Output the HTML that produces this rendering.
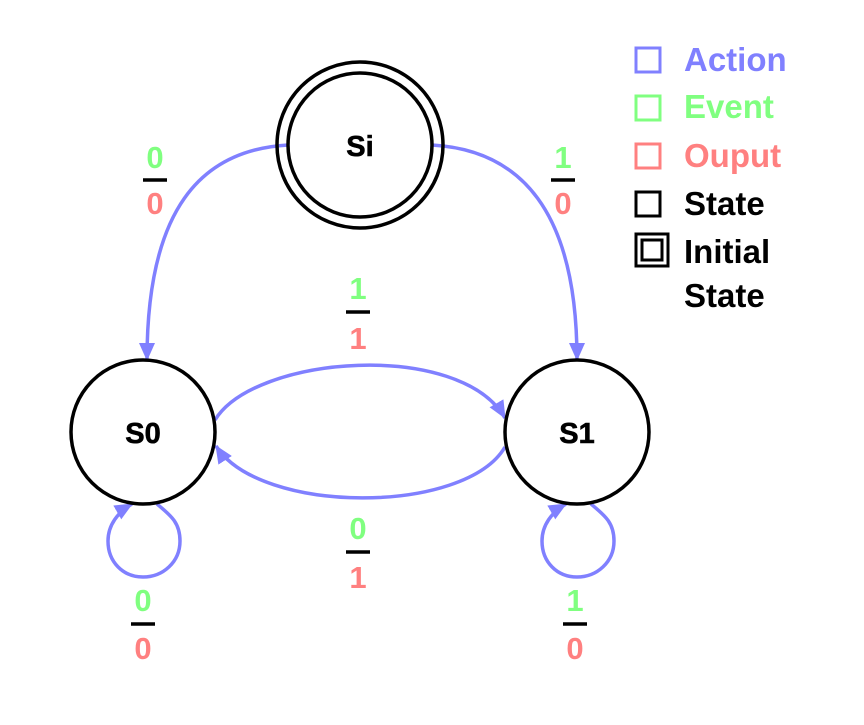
<!DOCTYPE html>
<html><head><meta charset="utf-8"><style>
body{margin:0;background:#fff}
svg text{font-family:"Liberation Sans",Arial,sans-serif;font-weight:bold}
</style></head><body>
<svg width="864" height="720" viewBox="0 0 864 720" xmlns="http://www.w3.org/2000/svg">
<defs>
<marker id="b" markerWidth="18" markerHeight="16" refX="17" refY="8" orient="auto" markerUnits="userSpaceOnUse"><path d="M0,0 L18,8 L0,16 Z" fill="#8080ff"/></marker></defs>
<g fill="none" stroke="#8080ff" stroke-width="3.5">
<path d="M288,145 C200,150 147,210 147,360" marker-end="url(#b)"/>
<path d="M432,145 C520,150 577,210 577,360" marker-end="url(#b)"/>
<path d="M215,420 C255,355 460,340 505,418" marker-end="url(#b)"/>
<path d="M505,447 C465,515 260,515 216,446" marker-end="url(#b)"/>
<path d="M157,504 C170,515 180,522 180,541 C180,562 163,577 143,577 C123,577 108,562 108,541 C108,525 118,512 132,504" marker-end="url(#b)"/>
<path d="M591,504 C604,515 614,522 614,541 C614,562 597,577 577,577 C557,577 542,562 542,541 C542,525 552,512 566,504" marker-end="url(#b)"/>
</g>
<g fill="none" stroke="#000" stroke-width="3.5">
<circle cx="360" cy="145" r="83"/><circle cx="360" cy="145" r="72"/>
<circle cx="143" cy="432" r="72"/><circle cx="577" cy="432" r="72"/>
</g>
<g font-size="29" text-anchor="middle" stroke="#000" stroke-width="0.6">
<text x="360" y="156">Si</text><text x="143" y="443">S0</text><text x="577" y="443">S1</text>
</g>
<g font-size="31" text-anchor="middle">
<text x="155" y="168" fill="#80ff80">0</text><text x="155" y="214" fill="#ff8080">0</text>
<text x="563" y="168" fill="#80ff80">1</text><text x="563" y="214" fill="#ff8080">0</text>
<text x="358" y="299" fill="#80ff80">1</text><text x="358" y="349" fill="#ff8080">1</text>
<text x="358" y="539" fill="#80ff80">0</text><text x="358" y="588" fill="#ff8080">1</text>
<text x="143" y="611" fill="#80ff80">0</text><text x="143" y="659" fill="#ff8080">0</text>
<text x="575" y="611" fill="#80ff80">1</text><text x="575" y="659" fill="#ff8080">0</text>
</g>
<g stroke="#000" stroke-width="3.5">
<line x1="143" y1="180" x2="167" y2="180"/><line x1="551" y1="180" x2="575" y2="180"/>
<line x1="346" y1="312" x2="370" y2="312"/><line x1="346" y1="552" x2="370" y2="552"/>
<line x1="131" y1="624" x2="155" y2="624"/><line x1="563" y1="624" x2="587" y2="624"/>
</g>
<g fill="none" stroke-width="3">
<rect x="636" y="48" width="24" height="24" stroke="#8080ff"/>
<rect x="636" y="96" width="24" height="24" stroke="#80ff80"/>
<rect x="636" y="144" width="24" height="24" stroke="#ff8080"/>
<rect x="636" y="192" width="24" height="24" stroke="#000"/>
<rect x="636" y="234" width="32" height="32" stroke="#000"/>
<rect x="642" y="240" width="20" height="20" stroke="#000"/>
</g>
<g font-size="33">
<text x="684" y="71" fill="#8080ff">Action</text>
<text x="684" y="118" fill="#80ff80">Event</text>
<text x="684" y="167" fill="#ff8080">Ouput</text>
<text x="684" y="215" fill="#000">State</text>
<text x="684" y="263" fill="#000">Initial</text>
<text x="684" y="307" fill="#000">State</text>
</g>
</svg>
</body></html>
